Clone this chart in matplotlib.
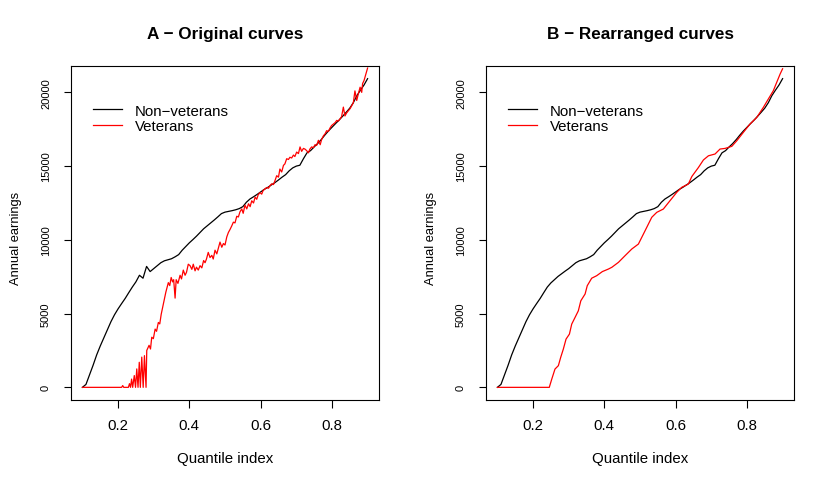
import matplotlib
matplotlib.use("Agg")
import matplotlib.pyplot as plt
from matplotlib import font_manager

plt.rcParams['font.family'] = ['Liberation Sans', 'DejaVu Sans']

# ---------------- data ----------------
titles = ["A \u2212 Original curves", "B \u2212 Rearranged curves"]
series_labels = ["Non\u2212veterans", "Veterans"]
x_label = "Quantile index"
y_label = "Annual earnings"
x_ticks = [0.2, 0.4, 0.6, 0.8]
y_ticks = [0, 5000, 10000, 15000, 20000]

q_black = [0.10, 0.11, 0.12, 0.13, 0.14, 0.15, 0.16, 0.17, 0.18, 0.19,
           0.20, 0.21, 0.22, 0.23, 0.24, 0.25, 0.26, 0.27, 0.28, 0.29,
           0.30, 0.31, 0.32, 0.33, 0.34, 0.35, 0.36, 0.37, 0.38, 0.39,
           0.40, 0.41, 0.42, 0.43, 0.44, 0.45, 0.46, 0.47, 0.48, 0.49,
           0.50, 0.51, 0.52, 0.53, 0.54, 0.55, 0.56, 0.57, 0.58, 0.59,
           0.60, 0.61, 0.62, 0.63, 0.64, 0.65, 0.66, 0.67, 0.68, 0.69,
           0.70, 0.71, 0.72, 0.73, 0.74, 0.75, 0.76, 0.77, 0.78, 0.79,
           0.80, 0.81, 0.82, 0.83, 0.84, 0.85, 0.86, 0.87, 0.88, 0.89,
           0.90]

# Non-veterans, original curve (panel A)
black_orig = [0, 200, 850, 1500, 2200, 2800, 3350, 3900, 4450, 4920,
              5320, 5680, 6030, 6420, 6800, 7150, 7600, 7400, 8200, 7850,
              8050, 8250, 8450, 8580, 8650, 8720, 8850, 9000, 9300, 9550,
              9800, 10020, 10250, 10500, 10750, 10950, 11150, 11350, 11560, 11780,
              11880, 11930, 11980, 12040, 12120, 12250, 12550, 12770, 12920, 13080,
              13250, 13420, 13560, 13720, 13880, 14060, 14250, 14420, 14680, 14880,
              15000, 15060, 15500, 15900, 16050, 16300, 16530, 16800, 17100, 17380,
              17630, 17880, 18120, 18380, 18650, 18930, 19300, 19780, 20150, 20500,
              20930]

# Non-veterans, rearranged curve (panel B)
black_rearr = [0, 200, 850, 1500, 2200, 2800, 3350, 3900, 4450, 4920,
               5320, 5680, 6030, 6420, 6800, 7080, 7300, 7520, 7700, 7880,
               8050, 8250, 8450, 8580, 8650, 8720, 8850, 9000, 9300, 9550,
               9800, 10020, 10250, 10500, 10750, 10950, 11150, 11350, 11560, 11780,
               11880, 11930, 11980, 12040, 12120, 12250, 12550, 12770, 12920, 13080,
               13250, 13420, 13560, 13720, 13880, 14060, 14250, 14420, 14680, 14880,
               15000, 15060, 15500, 15900, 16050, 16300, 16530, 16800, 17100, 17380,
               17630, 17880, 18120, 18380, 18650, 18930, 19300, 19780, 20150, 20500,
               20930]

# Veterans, original curve (panel A)
q_red_orig = [0.100, 0.210, 0.213, 0.216, 0.229, 0.232, 0.235, 0.238, 0.241, 0.2455,
              0.249, 0.2525, 0.256, 0.2595, 0.2625, 0.2665, 0.2705, 0.274, 0.2785, 0.2805,
              0.287, 0.291, 0.2945, 0.299, 0.304, 0.308, 0.313, 0.317, 0.321, 0.327,
              0.334, 0.341, 0.345, 0.349, 0.353, 0.356, 0.360, 0.363, 0.368, 0.374,
              0.378, 0.383, 0.388, 0.392, 0.397, 0.402, 0.407, 0.411, 0.416, 0.420,
              0.425, 0.430, 0.435, 0.440, 0.444, 0.448, 0.453, 0.458, 0.463, 0.467,
              0.472, 0.477, 0.481, 0.486, 0.491, 0.4955, 0.500, 0.505, 0.5095, 0.514,
              0.519, 0.5235, 0.528, 0.533, 0.5375, 0.542, 0.547, 0.551, 0.556, 0.561,
              0.566, 0.5705, 0.575, 0.580, 0.5845, 0.589, 0.593, 0.598, 0.603, 0.607,
              0.612, 0.617, 0.622, 0.627, 0.631, 0.636, 0.640, 0.645, 0.650, 0.654,
              0.659, 0.664, 0.668, 0.673, 0.678, 0.682, 0.687, 0.692, 0.696, 0.701,
              0.706, 0.7105, 0.715, 0.720, 0.7245, 0.729, 0.734, 0.738, 0.743, 0.748,
              0.7525, 0.757, 0.762, 0.767, 0.771, 0.776, 0.781, 0.785, 0.790, 0.795,
              0.799, 0.804, 0.809, 0.8135, 0.818, 0.8225, 0.827, 0.832, 0.8365, 0.841,
              0.846, 0.851, 0.8555, 0.860, 0.8645, 0.8695, 0.874, 0.879, 0.8835, 0.886,
              0.890, 0.894, 0.900]
red_orig = [0, 0, 120, 0, 0, 250, 0, 560, 0, 800,
            0, 1250, 0, 1700, 0, 2050, 0, 2150, 0, 2500,
            2850, 2600, 3400, 3300, 3950, 3800, 4400, 4300, 4950, 5650,
            6450, 7100, 6900, 7450, 7150, 7300, 6050, 7300, 7050, 7600,
            7350, 7950, 7600, 7800, 8350, 8250, 8000, 8350, 7900, 8150,
            7950, 8250, 8100, 8600, 8450, 8700, 9150, 8800, 8950, 8700,
            9300, 9050, 9400, 9850, 9500, 9750, 9650, 10200, 10500, 10700,
            10950, 11200, 11150, 11600, 11550, 11900, 12100, 11800, 12350, 12100,
            12450, 12250, 12650, 12500, 12900, 12750, 13050, 13200, 13100, 13350,
            13450, 13550, 13500, 13700, 13800, 13750, 14000, 14350, 14250, 14800,
            14600, 15050, 15150, 15500, 15450, 15600, 15550, 15750, 15650, 15950,
            15850, 16300, 16000, 16200, 16150, 16050, 15900, 16150, 16300, 16250,
            16450, 16400, 16750, 16450, 16800, 17050, 17200, 17400, 17350, 17600,
            17750, 17850, 17950, 18100, 18050, 18200, 18350, 19000, 18400, 18600,
            18750, 18900, 19100, 19300, 20100, 19450, 19900, 20350, 20000, 20600,
            20800, 21150, 21650]

# Veterans, rearranged curve (panel B)
q_red_rearr = [0.100, 0.2455, 0.2525, 0.2615, 0.271, 0.2775, 0.285, 0.2925, 0.302, 0.3085,
               0.318, 0.327, 0.334, 0.346, 0.352, 0.3645, 0.3785, 0.3945, 0.4113, 0.421,
               0.4395, 0.458, 0.477, 0.4955, 0.5095, 0.519, 0.533, 0.547, 0.5655, 0.584,
               0.603, 0.617, 0.6355, 0.6455, 0.6637, 0.678, 0.692, 0.7105, 0.7245, 0.7385,
               0.7575, 0.7715, 0.790, 0.8085, 0.8275, 0.846, 0.860, 0.874, 0.8835, 0.893,
               0.900]
red_rearr = [0, 0, 560, 1240, 1470, 2030, 2600, 3270, 3610, 4290,
             4750, 5190, 5870, 6330, 6890, 7400, 7570, 7850, 8020, 8140,
             8475, 8925, 9380, 9715, 10390, 10850, 11530, 11865, 12090, 12650,
             13220, 13560, 13780, 14300, 14900, 15420, 15700, 15820, 16157, 16200,
             16340, 16720, 17290, 17850, 18300, 18980, 19550, 20110, 20680, 21240,
             21600]

# ---------------- figure ----------------
W, H = 830, 485
fig = plt.figure(figsize=(W / 100, H / 100), dpi=100)

def px_axes(left, top, right, bottom):
    return fig.add_axes([left / W, 1 - bottom / H, (right - left) / W, (bottom - top) / H])

axA = px_axes(71, 67.3, 379, 400.7)
axB = px_axes(486, 67.3, 794, 400.7)

panels = [
    (axA, titles[0], q_black, black_orig, q_red_orig, red_orig),
    (axB, titles[1], q_black, black_rearr, q_red_rearr, red_rearr),
]

ymax = max(black_orig)
xmin, xmax = min(q_black), max(q_black)
xr = xmax - xmin

installed = {f.name for f in font_manager.fontManager.ttflist}
if 'Liberation Sans Narrow' in installed:
    yfam = ['Liberation Sans Narrow', 'Liberation Sans']
    ytick_size, ylab_size = 9.8, 11.0
else:
    yfam = ['Liberation Sans', 'DejaVu Sans']
    ytick_size, ylab_size = 8.0, 9.3

for ax, title, qb, yb, qr, yr in panels:
    ax.plot(qb, yb, color="black", lw=0.9, label=series_labels[0])
    ax.plot(qr, yr, color="#FF0000", lw=0.9, label=series_labels[1])
    ax.set_xlim(xmin - 0.04 * xr, xmax + 0.04 * xr)
    ax.set_ylim(-0.04 * ymax, 1.04 * ymax)
    ax.set_xticks(x_ticks)
    ax.set_xticklabels([f"{t:.1f}" for t in x_ticks], fontsize=10.8)
    ax.set_yticks(y_ticks)
    ax.set_yticklabels([str(t) for t in y_ticks], rotation=90, va="center",
                       family=yfam, fontsize=ytick_size)
    ax.tick_params(axis="both", direction="out", length=5.4, width=0.8, colors="black")
    ax.tick_params(axis="x", pad=8.0)
    ax.tick_params(axis="y", pad=9.0)
    for sp in ax.spines.values():
        sp.set_linewidth(0.8)
        sp.set_color("black")
    ax.set_xlabel(x_label, fontsize=10.8)
    ax.xaxis.set_label_coords(0.5, (400.7 - 459.5) / 333.4)
    ax.xaxis.label.set_verticalalignment("center")
    ax.set_ylabel(y_label, fontsize=ylab_size, family=yfam)
    ax.yaxis.set_label_coords((16 - 71) / 308, (400.7 - 238) / 333.4)
    ax.yaxis.label.set_verticalalignment("center")
    ax.set_title(title, fontsize=12.3, fontweight="bold", y=(400.7 - 35) / 333.4,
                 va="center", pad=0)
    ax.legend(loc="upper left", bbox_to_anchor=(0.0714, 0.888), frameon=False,
              fontsize=10.8, handlelength=1.95, handletextpad=0.85, labelspacing=0.12,
              borderpad=0, borderaxespad=0)

fig.savefig("out.png", dpi=100)
